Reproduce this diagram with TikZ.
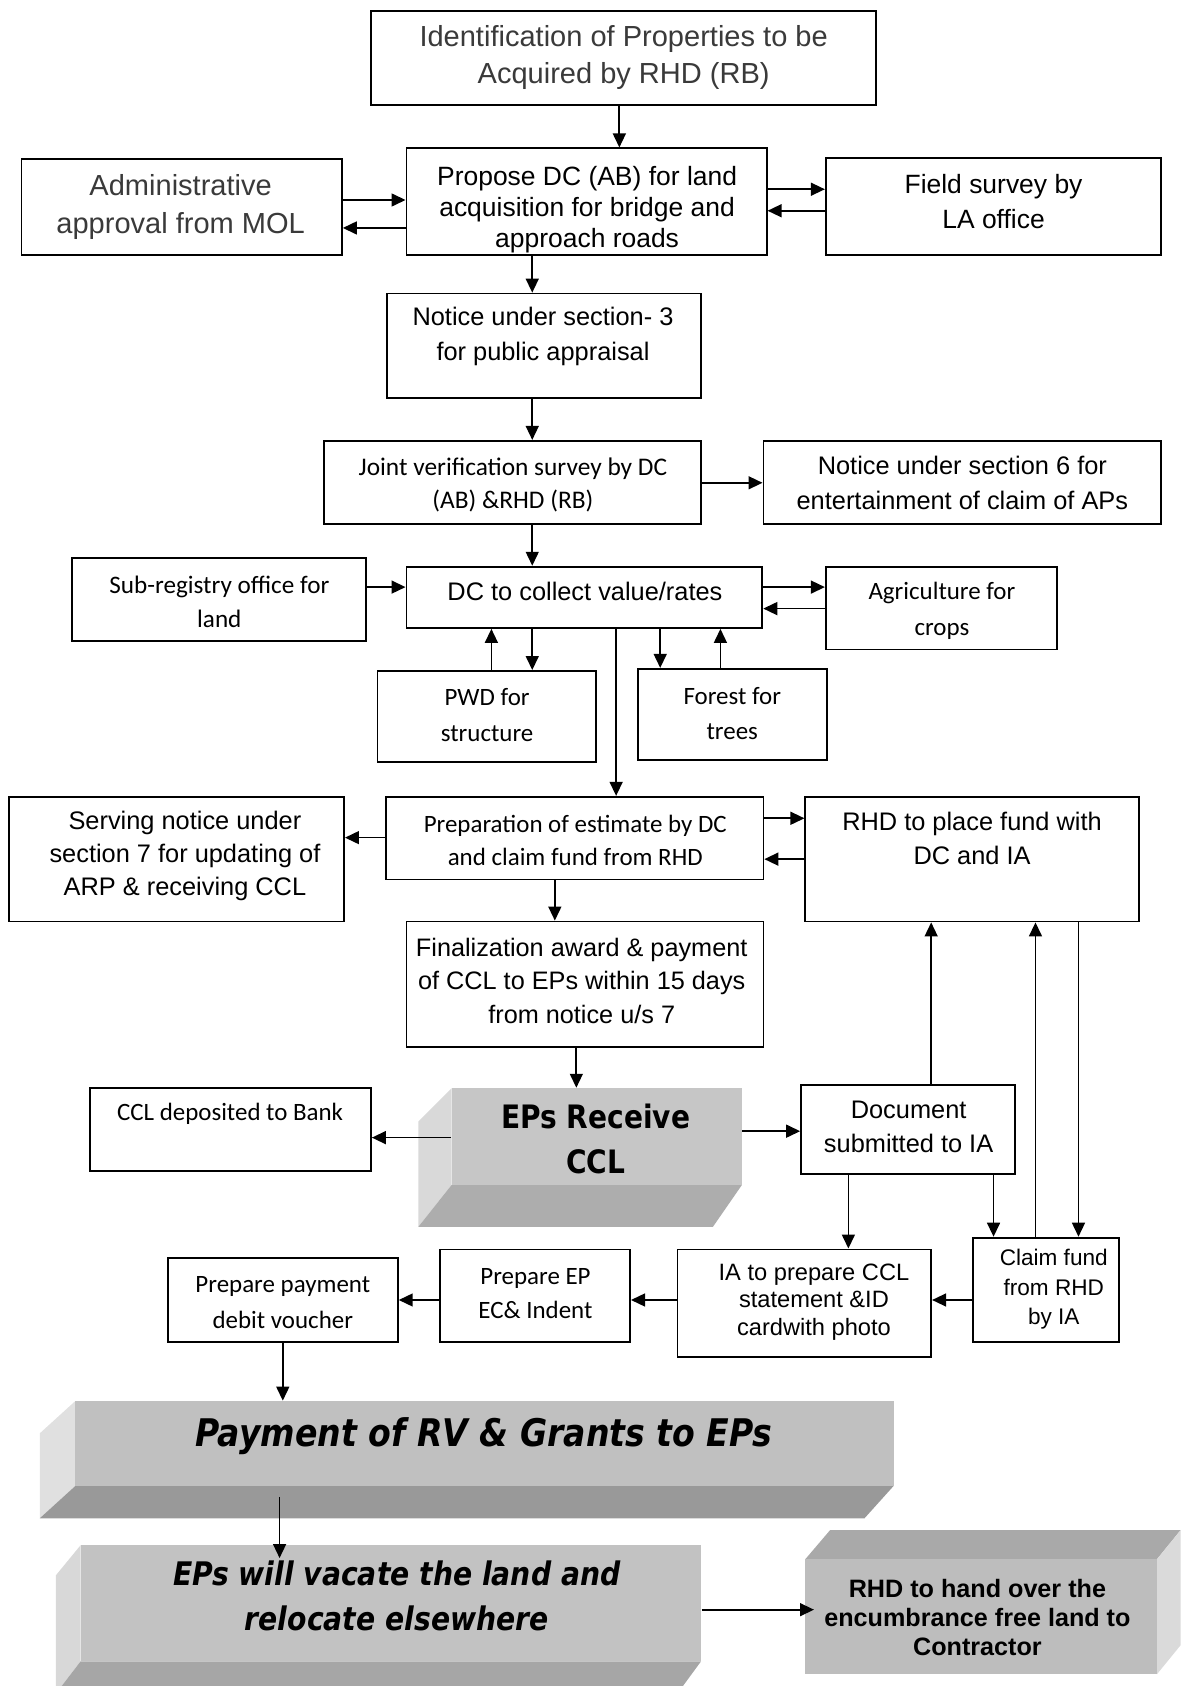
\documentclass[tikz,border=0pt]{standalone}
\usepackage{fontspec}
\setmainfont{Liberation Sans}
\newfontfamily\calfont{Carlito}
\newfontfamily\tahfont{DejaVu Sans}[FakeStretch=0.87]
\usetikzlibrary{arrows.meta}
\definecolor{txtgray}{HTML}{3A3A3A}
\definecolor{rfront}{HTML}{C6C6C6}
\definecolor{rleft}{HTML}{D9D9D9}
\definecolor{rbot}{HTML}{ADADAD}
\definecolor{pfront}{HTML}{C0C0C0}
\definecolor{pleft}{HTML}{E0E0E0}
\definecolor{pbot}{HTML}{999999}
\definecolor{vfront}{HTML}{C2C2C2}
\definecolor{vleft}{HTML}{D8D8D8}
\definecolor{vbot}{HTML}{A6A6A6}
\definecolor{hfront}{HTML}{BDBDBD}
\definecolor{htop}{HTML}{A9A9A9}
\definecolor{hright}{HTML}{DADADA}
\newcommand\fs[2]{\fontsize{#1}{#2}\selectfont}
\newcommand\bx[5]{\node[box,minimum width={(#4-#2)*0.5pt},minimum height={(#5-#3)*0.5pt}] (#1) at ({(#2+#4)/2},{(#3+#5)/2}) {};}
\newcommand\fc[6]{\node[face,fill=#6,minimum width={(#4-#2)*0.5pt},minimum height={(#5-#3)*0.5pt}] (#1) at ({(#2+#4)/2},{(#3+#5)/2}) {};}
\tikzset{
  box/.style={draw, line width=0.85pt, fill=white, rectangle, inner sep=0pt},
  face/.style={rectangle, inner sep=0pt, draw=none},
  arr/.style={line width=0.8pt, -{Triangle[length=6.5pt,width=6pt]}},
  txt/.style={align=center, inner sep=0pt},
}
\begin{document}
\begin{tikzpicture}[x=0.5pt,y=-0.5pt]
\useasboundingbox (0,0) rectangle (1099,1568);
\clip (0,0) rectangle (1099,1568);
% ---------- plain boxes
\bx{b1}{345}{10}{815}{98}
\bx{b2}{20}{148}{318}{237}
\bx{b3}{378}{138}{713}{237}
\bx{b4}{768}{147}{1080}{237}
\bx{b5}{360}{273}{652}{370}
\bx{b6}{301}{410}{652}{487}
\bx{b7}{710}{410}{1080}{487}
\bx{b8}{67}{519}{340}{596}
\bx{b9}{378}{527}{709}{584}
\bx{b10}{768}{527}{983}{604}
\bx{b11}{351}{624}{554}{709}
\bx{b12}{593}{622}{769}{707}
\bx{b13}{8}{741}{320}{857}
\bx{b14}{359}{741}{710}{818}
\bx{b15}{749}{741}{1059}{857}
\bx{b16}{378}{857}{710}{974}
\bx{b17}{84}{1012}{345}{1089}
\bx{b19}{745}{1009}{944}{1092}
\bx{b20}{905}{1151}{1041}{1248}
\bx{b21}{630}{1162}{866}{1262}
\bx{b22}{409}{1162}{586}{1248}
\bx{b23}{156}{1170}{370}{1248}
% ---------- 3D boxes
% EPs Receive CCL
\fill[rleft] (420,1012) -- (389,1043) -- (389,1141) -- (420,1102) -- cycle;
\fill[rbot] (420,1102) -- (690,1102) -- (663,1141) -- (389,1141) -- cycle;
\fc{b18}{420}{1012}{690}{1102}{rfront}
% Payment
\fill[pleft] (70,1303) -- (37,1333) -- (37,1412) -- (70,1382) -- cycle;
\fill[pbot] (70,1382) -- (831,1382) -- (804,1412) -- (37,1412) -- cycle;
\fc{b24}{70}{1303}{831}{1382}{pfront}
% Vacate
\fill[vleft] (75,1437) -- (52,1465) -- (52,1575) -- (75,1545) -- cycle;
\fill[vbot] (75,1545) -- (652,1545) -- (630,1575) -- (52,1575) -- cycle;
\fc{b25}{75}{1437}{652}{1545}{vfront}
% RHD hand over
\fill[htop] (749,1450) -- (772,1423) -- (1098,1423) -- (1076,1450) -- cycle;
\fill[hright] (1076,1450) -- (1098,1423) -- (1098,1530) -- (1076,1557) -- cycle;
\fc{b26}{749}{1450}{1076}{1557}{hfront}
% ---------- texts
\node[txt,text=txtgray,font=\fs{13.5}{17.5}] (t1) at (580,53.5) {Identification of Properties to be\\Acquired by RHD (RB)};
\node[txt,text=txtgray,font=\fs{13.5}{17.5}] (t2) at (168,192.5) {Administrative\\approval from MOL};
\begin{scope}
\clip (379,139) rectangle (712,236);
\node[txt,font=\fs{12.3}{14.25}] (t3) at (546,195) {Propose DC (AB) for land\\acquisition for bridge and\\approach roads};
\end{scope}
\node[txt,font=\fs{12.3}{16.5}] (t4) at (924,187.5) {Field survey by\\LA office};
\node[txt,font=\fs{11.8}{16}] (t5) at (505,313) {Notice under section- 3\\for public appraisal};
\node[txt,font=\calfont\fs{11.8}{15.5}] (t6) at (477,451) {Joint verification survey by DC\\(AB) \&RHD (RB)};
\node[txt,font=\fs{11.8}{16}] (t7) at (895,449) {Notice under section 6 for\\entertainment of claim of APs};
\node[txt,font=\calfont\fs{11.7}{16}] (t8) at (204,560) {Sub-registry office for\\land};
\node[txt,font=\fs{11.8}{14}] (t9) at (544,550) {DC to collect value/rates};
\node[txt,font=\calfont\fs{11.6}{17}] (t10) at (876,568) {Agriculture for\\crops};
\node[txt,font=\calfont\fs{11.6}{17}] (t11) at (453,665) {PWD for\\structure};
\node[txt,font=\calfont\fs{11.6}{16.5}] (t12) at (681,663.5) {Forest for\\trees};
\node[txt,font=\fs{11.8}{15.5}] (t13) at (172,796) {Serving notice under\\section 7 for updating of\\ARP \& receiving CCL};
\node[txt,font=\calfont\fs{11.6}{15.5}] (t14) at (535,781.5) {Preparation of estimate by DC\\and claim fund from RHD};
\node[txt,font=\fs{11.8}{16}] (t15) at (904,780) {RHD to place fund with\\DC and IA};
\node[txt,font=\fs{11.75}{15.5}] (t16) at (541,912) {Finalization award \& payment\\of CCL to EPs within 15 days\\from notice u/s 7};
\node[txt,font=\calfont\fs{11.6}{14}] (t17) at (214,1036) {CCL deposited to Bank};
\node[txt,font=\tahfont\bfseries\fs{15}{21}] (t18) at (554,1059) {EPs Receive\\CCL};
\node[txt,font=\fs{11.8}{16}] (t19) at (845,1048) {Document\\submitted to IA};
\node[txt,font=\fs{10.5}{13.75}] (t20) at (980,1199.3) {Claim fund\\from RHD\\by IA};
\node[txt,font=\fs{11}{12.75}] (t21) at (757,1211) {IA to prepare CCL\\statement \&ID\\cardwith photo};
\node[txt,font=\calfont\fs{11.6}{16}] (t22) at (498,1203) {Prepare EP\\EC\& Indent};
\node[txt,font=\calfont\fs{11.6}{16.5}] (t23) at (263,1211.5) {Prepare payment\\debit voucher};
\node[txt,font=\tahfont\bfseries\itshape\fs{17.7}{21}] (t24) at (450,1336) {Payment of RV \& Grants to EPs};
\node[txt,font=\tahfont\bfseries\itshape\fs{15.1}{21}] (t25) at (369,1484) {EPs will vacate the land and\\relocate elsewhere};
\node[txt,font=\bfseries\fs{11.7}{13.5}] (t26) at (909,1504) {RHD to hand over the\\encumbrance free land to\\Contractor};
% ---------- connectors
\draw[arr] (576,0 |- b1.south) -- (576,0 |- b3.north);
\draw[arr] (b2.east |- 0,186) -- (b3.west |- 0,186);
\draw[arr] (b3.west |- 0,212) -- (b2.east |- 0,212);
\draw[arr] (b3.east |- 0,176) -- (b4.west |- 0,176);
\draw[arr] (b4.west |- 0,196) -- (b3.east |- 0,196);
\draw[arr] (495,0 |- b3.south) -- (495,0 |- b5.north);
\draw[arr] (495,0 |- b5.south) -- (495,0 |- b6.north);
\draw[arr] (b6.east |- 0,449) -- (b7.west |- 0,449);
\draw[arr] (495,0 |- b6.south) -- (495,0 |- b9.north);
\draw[arr] (b8.east |- 0,546) -- (b9.west |- 0,546);
\draw[arr] (b9.east |- 0,546) -- (b10.west |- 0,546);
\draw[arr] (b10.west |- 0,566) -- (b9.east |- 0,566);
\draw[arr] (457,0 |- b11.north) -- (457,0 |- b9.south);
\draw[arr] (495,0 |- b9.south) -- (495,0 |- b11.north);
\draw[arr] (614,0 |- b9.south) -- (614,0 |- b12.north);
\draw[arr] (670,0 |- b12.north) -- (670,0 |- b9.south);
\draw[arr] (573,0 |- b9.south) -- (573,0 |- b14.north);
\draw[arr] (b14.west |- 0,779) -- (b13.east |- 0,779);
\draw[arr] (b14.east |- 0,761) -- (b15.west |- 0,761);
\draw[arr] (b15.west |- 0,799) -- (b14.east |- 0,799);
\draw[arr] (516,0 |- b14.south) -- (516,0 |- b16.north);
\draw[arr] (536,0 |- b16.south) -- (536,0 |- b18.north);
\draw[arr] (b18.west |- 0,1058) -- (b17.east |- 0,1058);
\draw[arr] (b18.east |- 0,1052) -- (b19.west |- 0,1052);
\draw[arr] (866,0 |- b19.north) -- (866,0 |- b15.south);
\draw[arr] (963,0 |- b20.north) -- (963,0 |- b15.south);
\draw[arr] (1003,0 |- b15.south) -- (1003,0 |- b20.north);
\draw[arr] (924,0 |- b19.south) -- (924,0 |- b20.north);
\draw[arr] (789,0 |- b19.south) -- (789,0 |- b21.north);
\draw[arr] (b20.west |- 0,1209) -- (b21.east |- 0,1209);
\draw[arr] (b21.west |- 0,1209) -- (b22.east |- 0,1209);
\draw[arr] (b22.west |- 0,1209) -- (b23.east |- 0,1209);
\draw[arr] (263,0 |- b23.south) -- (263,0 |- b24.north);
\coordinate (p1) at (260,1392);
\coordinate (p2) at (260,1449);
\draw[arr] (p1) -- (p2);
\coordinate (p3) at (757,1497);
\draw[arr] (b25.east |- 0,1497) -- (p3);
\end{tikzpicture}
\end{document}
